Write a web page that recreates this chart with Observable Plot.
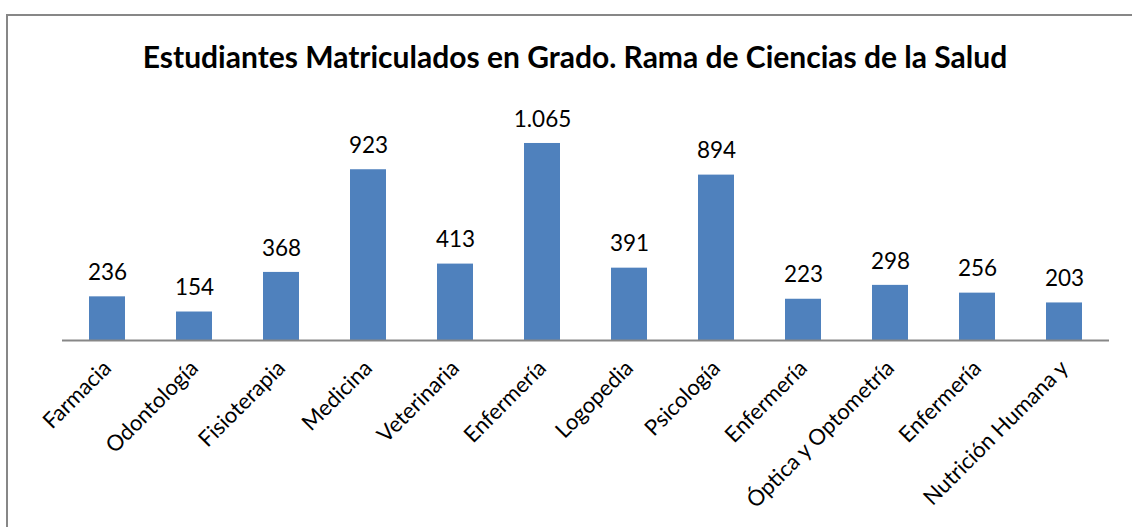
<!DOCTYPE html>
<html>
<head>
<meta charset="utf-8">
<script src="https://cdn.jsdelivr.net/npm/d3@7"></script>
<script src="https://cdn.jsdelivr.net/npm/@observablehq/plot@0.6"></script>
<style>
  html, body { margin: 0; padding: 0; background: #fff; overflow: hidden; width: 1132px; height: 527px; }
  #wrap { position: relative; width: 1132px; height: 527px; }
  #frame { position: absolute; left: 6px; top: 14px; width: 1200px; height: 600px; border: 2px solid #878787; box-sizing: border-box; }
  #title { position: absolute; left: 0; top: 38px; width: 1150px; text-align: center; font-family: Lato, sans-serif; font-weight: bold; font-size: 30px; line-height: 36px; color: #000; }
  #chart { position: absolute; left: 0; top: 0; }
</style>
</head>
<body>
<div id="wrap">
  <div id="frame"></div>
  <div id="title">Estudiantes Matriculados en Grado. Rama de Ciencias de la Salud</div>
  <div id="chart"></div>
</div>
<script>
const categories = ["Farmacia", "Odontología", "Fisioterapia", "Medicina", "Veterinaria", "Enfermería", "Logopedia", "Psicología", "Enfermería", "Óptica y Optometría", "Enfermería", "Nutrición Humana y"];
const values = [236, 154, 368, 923, 413, 1065, 391, 894, 223, 298, 256, 203];

const data = categories.map((c, i) => ({i: String(i), cat: c, v: values[i]}));
const fmt = v => d3.format(",")(v).replace(/,/g, ".");

const chart = Plot.plot({
  width: 1132,
  height: 527,
  marginLeft: 62,
  marginRight: 23,
  marginTop: 118,
  marginBottom: 187,
  style: {fontFamily: "Lato, sans-serif", background: "transparent", overflow: "visible"},
  x: {
    domain: data.map(d => d.i),
    paddingInner: 0.59,
    paddingOuter: 0.295,
    label: null,
    tickSize: 0,
    tickPadding: 24,
    tickRotate: -45,
    tickFormat: i => categories[+i]
  },
  y: {domain: [0, 1200], axis: null},
  marks: [
    Plot.barY(data, {x: "i", y: "v", fill: "#4F81BD"}),
    Plot.ruleY([0], {stroke: "#878787", strokeWidth: 2}),
    Plot.text(data, {x: "i", y: "v", text: d => fmt(d.v), dy: -24, fontSize: 22.5, fill: "#000"}),
    Plot.axisX({tickSize: 0, tickPadding: 24, tickRotate: -45, tickFormat: i => categories[+i], fontSize: 22, fill: "#000", label: null})
  ]
});
document.getElementById("chart").appendChild(chart);
</script>
</body>
</html>
